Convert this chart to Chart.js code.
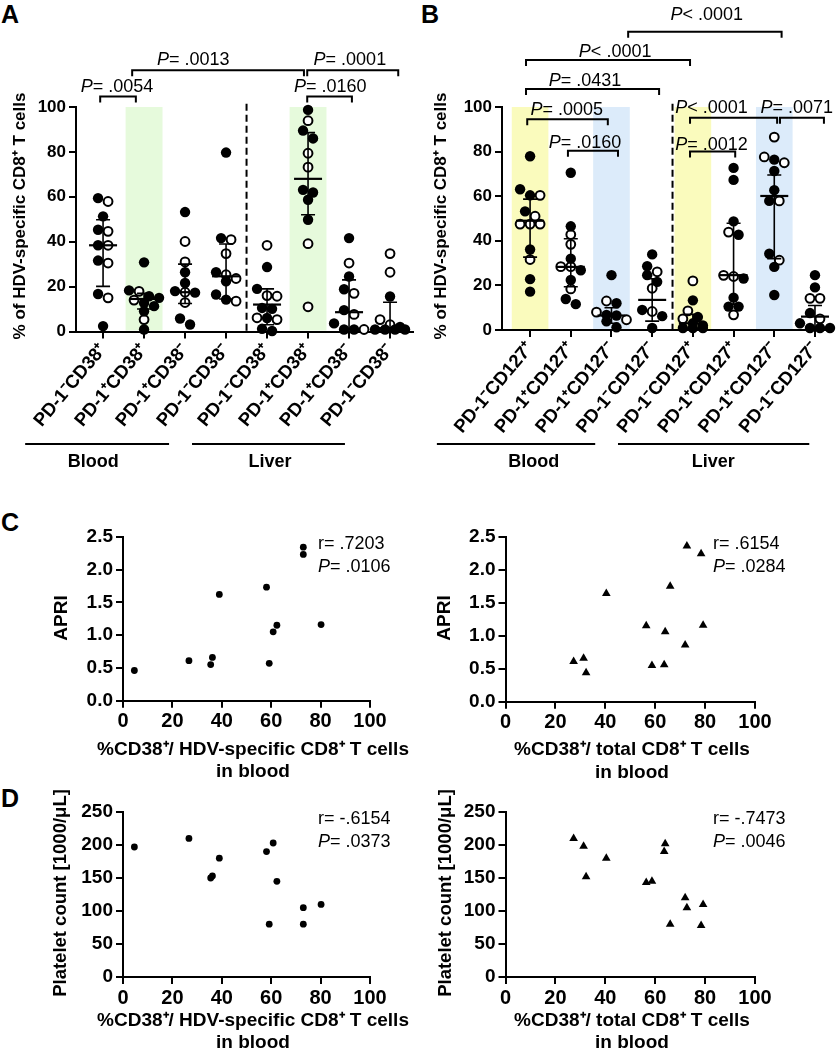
<!DOCTYPE html>
<html>
<head>
<meta charset="utf-8">
<script src="https://cdn.jsdelivr.net/npm/chart.js"></script>
<style>
  body { margin: 0; background: #fff; width: 840px; height: 1050px; position: relative; overflow: hidden; }
  canvas { position: absolute; }
  .panel { position: absolute; font: bold 25px 'Liberation Sans', Arial, sans-serif; line-height: 25px; }
</style>
</head>
<body>
<div class="panel" style="left:1px;top:2px">A</div>
<div class="panel" style="left:421px;top:2px">B</div>
<div class="panel" style="left:1px;top:510px">C</div>
<div class="panel" style="left:1px;top:786px">D</div>
<canvas id="chartA" width="420" height="480" style="left:0;top:0"></canvas>
<canvas id="chartB" width="420" height="480" style="left:420px;top:0"></canvas>
<canvas id="chartC1" width="420" height="300" style="left:0;top:480px"></canvas>
<canvas id="chartC2" width="420" height="300" style="left:420px;top:480px"></canvas>
<canvas id="chartD1" width="420" height="270" style="left:0;top:780px"></canvas>
<canvas id="chartD2" width="420" height="270" style="left:420px;top:780px"></canvas>
<script>
// ---- data ----
const labelsA = ['PD-1⁻CD38⁺', 'PD-1⁺CD38⁺', 'PD-1⁺CD38⁻', 'PD-1⁻CD38⁻', 'PD-1⁻CD38⁺', 'PD-1⁺CD38⁺', 'PD-1⁺CD38⁻', 'PD-1⁻CD38⁻'];
const filledA = [
  [59.4, 51.3, 45.3, 38.4, 31.6, 16.7, 2.4],
  [30.8, 18.3, 15.7, 15, 12.7, 11.3, 9, 0.9],
  [53.2, 26.4, 21.6, 18, 17.3, 5.8, 3.1],
  [79.7, 41.6, 26.4, 22.4, 16.5, 14.2],
  [28.7, 19, 10.5, 10.1, 6, 1.2, 0.2],
  [98.7, 89.5, 86, 63.1, 61.9, 58.7, 49.8],
  [41.6, 24.5, 18.8, 9.5, 3.6, 0.9, 0.9],
  [15.6, 2, 0.9, 0.9, 0.9, 0.9]
];
const openA = [
  [57.9, 44.6, 38.4, 30.5, 15],
  [17.9, 14, 5.3],
  [40.1, 31, 17.5, 12.9],
  [40.9, 34.7, 25.3, 23.6, 13.5],
  [38.4, 16, 15.7, 6.1, 5.3],
  [93.9, 79.4, 73.2, 39.1, 11],
  [30.5, 17, 7.6, 0.9],
  [34.7, 26.4, 5.3, 3]
];
const medianA = [38.4, 14.5, 17.5, 24.6, 12, 68, 8.6, 1.5];
const q1A = [20.1, 10, 12.5, 14.5, 3, 52, 0.9, 0.5];
const q3A = [49.8, 17, 30, 39, 19, 88.6, 23, 13];

const labelsB = ['PD-1⁻CD127⁺', 'PD-1⁺CD127⁺', 'PD-1⁺CD127⁻', 'PD-1⁻CD127⁻', 'PD-1⁻CD127⁺', 'PD-1⁺CD127⁺', 'PD-1⁺CD127⁻', 'PD-1⁻CD127⁻'];
const filledB = [
  [77.9, 63.1, 60.4, 53.2, 36.1, 22.8, 17.2],
  [70.5, 46.5, 32, 26.8, 22.4, 13.9, 11.6],
  [24.6, 12, 6.8, 6.5, 3.9, 1.2],
  [33.9, 28.6, 24.6, 21.6, 9, 6.2, 0.9],
  [13.3, 5.8, 3, 2, 0.9, 0.9, 0.9],
  [72.7, 67.3, 48.7, 42.7, 23.1, 14.5, 10.5, 10.5],
  [76.4, 71.3, 62.7, 57.9, 34.2, 28.3, 15.7],
  [24.6, 19.1, 7.6, 3, 0.9, 0.9, 0.9]
];
const openB = [
  [60.4, 51, 47.5, 47.5, 47.5, 31.6],
  [42.8, 38.4, 28.4, 28.4, 18.4],
  [13, 8, 4.6],
  [26.1, 18.7, 8.3],
  [22, 8.6, 5],
  [43.9, 24.5, 24, 6.8],
  [86.5, 77.6, 75, 57.9, 31.3],
  [14.2, 14.2, 5]
];
const medianB = [49, 28.3, 6.5, 13.5, 3, 24.6, 60.1, 6];
const q1B = [32.7, 19.4, 3, 4, 0.5, 11.6, 32, 1];
const q3B = [58.7, 40.9, 10, 23, 7, 47.9, 69.5, 11];

// correlations: CD38+ of HDV-specific (left) / of total (right) CD8+ T cells in blood
const cd38Hdv = [4.6, 26.7, 35.5, 36.2, 39, 58.1, 59.2, 60.8, 62.3, 73, 73, 80.2];
const apriHdv = [0.46, 0.61, 0.55, 0.66, 1.62, 1.73, 0.57, 1.05, 1.15, 2.34, 2.23, 1.16];
const plateletHdv = [197, 210, 150, 153, 180, 190, 80, 203, 145, 105, 80, 110];
const cd38Total = [27.3, 31.3, 32.3, 40.4, 56.4, 58.7, 63.6, 64, 66, 72, 72.7, 78.4, 79.2];
const apriTotal = [0.61, 0.66, 0.44, 1.64, 1.15, 0.55, 0.56, 1.06, 1.75, 0.86, 2.36, 2.24, 1.16];
const plateletTotal = [210, 198, 152, 180, 143, 145, 190, 202, 80, 120, 105, 78, 110];

// ---- drawing ----
const FONT = "'Liberation Sans', Arial, Helvetica, sans-serif";
Chart.defaults.font.family = FONT;
Chart.defaults.color = '#000';

function richText(ctx, s, x, y, size, align) {
  ctx.textBaseline = 'alphabetic';
  if (s[0] === 'P') {
    ctx.font = `italic ${size}px ${FONT}`;
    const w1 = ctx.measureText('P').width;
    ctx.font = `${size}px ${FONT}`;
    const rest = s.slice(1);
    const w2 = ctx.measureText(rest).width;
    let x0 = align === 'center' ? x - (w1 + w2) / 2 : (align === 'right' ? x - w1 - w2 : x);
    ctx.textAlign = 'left';
    ctx.font = `italic ${size}px ${FONT}`;
    ctx.fillText('P', x0, y);
    ctx.font = `${size}px ${FONT}`;
    ctx.fillText(rest, x0 + w1, y);
  } else {
    ctx.font = `${size}px ${FONT}`;
    ctx.textAlign = align;
    ctx.fillText(s, x, y);
  }
}

const overlay = {
  id: 'overlay',
  beforeDatasetsDraw(chart, args, o) {
    const { ctx, scales: { x, y } } = chart;
    ctx.save();
    (o.bands || []).forEach(b => {
      const x1 = x.getPixelForValue(b.cat - 0.45), x2 = x.getPixelForValue(b.cat + 0.45);
      const y1 = y.getPixelForValue(100), y2 = y.getPixelForValue(0) - 1;
      ctx.fillStyle = b.color;
      ctx.fillRect(x1, y1, x2 - x1, y2 - y1);
    });
    if (o.divider != null) {
      const px = x.getPixelForValue(o.divider);
      ctx.strokeStyle = '#000';
      ctx.lineWidth = 2;
      ctx.setLineDash([7, 4]);
      ctx.beginPath();
      ctx.moveTo(px, y.getPixelForValue(101.5));
      ctx.lineTo(px, y.getPixelForValue(0));
      ctx.stroke();
    }
    ctx.restore();
  },
  afterDatasetsDraw(chart, args, o) {
    const { ctx, scales: { x, y } } = chart;
    ctx.save();
    ctx.strokeStyle = '#000';
    ctx.fillStyle = '#000';
    if (o.stats) {
      o.stats.median.forEach((m, i) => {
        const cx = x.getPixelForValue(i);
        const lo = y.getPixelForValue(o.stats.lo[i]), hi = y.getPixelForValue(o.stats.hi[i]);
        const my = y.getPixelForValue(m);
        ctx.lineWidth = 1.6;
        ctx.beginPath();
        ctx.moveTo(cx, lo); ctx.lineTo(cx, hi);
        ctx.moveTo(cx - 7, lo); ctx.lineTo(cx + 7, lo);
        ctx.moveTo(cx - 7, hi); ctx.lineTo(cx + 7, hi);
        ctx.stroke();
        ctx.lineWidth = 2.2;
        ctx.beginPath();
        ctx.moveTo(cx - 14, my); ctx.lineTo(cx + 14, my);
        ctx.stroke();
      });
    }
    (o.brackets || []).forEach(b => {
      const x1 = x.getPixelForValue(b.x1), x2 = x.getPixelForValue(b.x2), py = y.getPixelForValue(b.y);
      ctx.lineWidth = 2;
      ctx.beginPath();
      ctx.moveTo(x1, py + 6); ctx.lineTo(x1, py); ctx.lineTo(x2, py); ctx.lineTo(x2, py + 6);
      ctx.stroke();
      richText(ctx, b.label, x.getPixelForValue(b.lx), y.getPixelForValue(b.ly), 18, 'center');
    });
    (o.groups || []).forEach(g => {
      ctx.lineWidth = 1.8;
      ctx.beginPath();
      ctx.moveTo(x.getPixelForValue(g.x1), g.lineY);
      ctx.lineTo(x.getPixelForValue(g.x2), g.lineY);
      ctx.stroke();
      ctx.font = `bold 18px ${FONT}`;
      ctx.textAlign = 'center';
      ctx.textBaseline = 'alphabetic';
      ctx.fillText(g.text, x.getPixelForValue(g.tx), g.textY);
    });
    (o.texts || []).forEach(t => {
      ctx.save();
      ctx.translate(t.x, t.y);
      if (t.rot) ctx.rotate(t.rot);
      ctx.textBaseline = 'middle';
      if (t.bold) {
        ctx.font = `bold ${t.size}px ${FONT}`;
        ctx.textAlign = t.align || 'center';
        ctx.fillText(t.t, 0, 0);
      } else {
        richText(ctx, t.t, 0, t.size * 0.36, t.size, t.align || 'left');
      }
      ctx.restore();
    });
    ctx.restore();
  }
};
Chart.register(overlay);

const axisGrid = { drawOnChartArea: false, color: '#000', lineWidth: 2, tickLength: 7 };
const axisBorder = { color: '#000', width: 2 };

// simple Prism-like swarm: points in close value rows are spread sideways
function swarm(filled, open, cat, pxX, pxY) {
  const pts = filled.map(v => ({ v, f: true })).concat(open.map(v => ({ v, f: false })));
  pts.sort((a, b) => b.v - a.v);
  const rows = [];
  pts.forEach(p => {
    const r = rows[rows.length - 1];
    if (r && (r[0].v - p.v) * pxY < 8) r.push(p); else rows.push([p]);
  });
  rows.forEach(r => {
    const gap = r.length > 1 ? Math.min(10, 30 / (r.length - 1)) : 0;
    r.forEach((p, k) => { p.x = cat + (k - (r.length - 1) / 2) * gap / pxX; });
  });
  return pts;
}

function dotPlot(id, box, labels, filled, open, med, lo, hi, extra) {
  const canvas = document.getElementById(id);
  const W = canvas.width, H = canvas.height;
  const pxX = (box.R - box.L) / (box.xMax - box.xMin);
  const pxY = (box.B - box.T) / 100;
  const pf = [], po = [];
  labels.forEach((_, i) => {
    swarm(filled[i], open[i], i, pxX, pxY).forEach(p => (p.f ? pf : po).push({ x: p.x, y: p.v }));
  });
  return new Chart(canvas, {
    type: 'scatter',
    data: {
      datasets: [
        { data: pf, backgroundColor: '#000', borderColor: '#000', borderWidth: 0, pointRadius: 5.2, clip: false },
        { data: po, backgroundColor: '#fff', borderColor: '#000', borderWidth: 2, pointRadius: 4.4, clip: false }
      ]
    },
    options: {
      responsive: false, animation: false, devicePixelRatio: 1, events: [],
      layout: { padding: { left: 0, top: box.T, right: W - box.R, bottom: 0 } },
      plugins: { legend: { display: false }, tooltip: { enabled: false }, overlay: extra },
      scales: {
        x: {
          type: 'linear', min: box.xMin, max: box.xMax,
          afterBuildTicks: s => { s.ticks = labels.map((_, i) => ({ value: i })); },
          afterFit: s => { s.height = H - box.B; },
          ticks: {
            autoSkip: false, minRotation: 50, maxRotation: 50, padding: 1,
            font: { size: 18.5, weight: 'bold' },
            callback: v => labels[v]
          },
          grid: axisGrid, border: axisBorder
        },
        y: {
          min: 0, max: 100,
          afterFit: s => { s.width = box.L; },
          ticks: { stepSize: 20, padding: 3, font: { size: 17, weight: 'bold' } },
          grid: axisGrid, border: axisBorder
        }
      }
    }
  });
}

function corrPlot(id, box, xs, ys, yMax, yStep, yDec, style, texts) {
  const canvas = document.getElementById(id);
  const W = canvas.width, H = canvas.height;
  return new Chart(canvas, {
    type: 'scatter',
    data: {
      datasets: [{
        data: xs.map((v, i) => ({ x: v, y: ys[i] })),
        pointStyle: style, pointRadius: style === 'triangle' ? 5 : 3.4,
        backgroundColor: '#000', borderColor: '#000', borderWidth: 0, clip: false
      }]
    },
    options: {
      responsive: false, animation: false, devicePixelRatio: 1, events: [],
      layout: { padding: { left: 0, top: box.T, right: W - box.R, bottom: 0 } },
      plugins: { legend: { display: false }, tooltip: { enabled: false }, overlay: { texts } },
      scales: {
        x: {
          type: 'linear', min: 0, max: 100,
          afterFit: s => { s.height = H - box.B; },
          ticks: { stepSize: 20, padding: 2, font: { size: 20, weight: 'bold' } },
          grid: axisGrid, border: axisBorder
        },
        y: {
          min: 0, max: yMax,
          afterFit: s => { s.width = box.L; },
          ticks: { stepSize: yStep, padding: 3, font: { size: 19, weight: 'bold' }, callback: v => v.toFixed(yDec) },
          grid: axisGrid, border: axisBorder
        }
      }
    }
  });
}

const yTitle = '% of HDV-specific CD8⁺ T cells';
const ROT = -Math.PI / 2;

dotPlot('chartA', { L: 76, T: 107, R: 413, B: 331.5, xMin: -0.66, xMax: 7.56 }, labelsA, filledA, openA, medianA, q1A, q3A, {
  stats: { median: medianA, lo: q1A, hi: q3A },
  bands: [{ cat: 1, color: '#e6fadc' }, { cat: 5, color: '#e6fadc' }],
  divider: 3.5,
  brackets: [
    { x1: -0.07, x2: 0.8, y: 104.7, lx: 0.34, ly: 106.7, label: 'P= .0054' },
    { x1: 0.71, x2: 4.9, y: 116.4, lx: 2.2, ly: 118.7, label: 'P= .0013' },
    { x1: 4.98, x2: 7.2, y: 116.4, lx: 6.02, ly: 118.7, label: 'P= .0001' },
    { x1: 4.98, x2: 6.07, y: 104.7, lx: 5.54, ly: 106.7, label: 'P= .0160' }
  ],
  groups: [
    { x1: -1.9, x2: 1.61, tx: -0.24, lineY: 444, textY: 467, text: 'Blood' },
    { x1: 2.17, x2: 5.9, tx: 4.07, lineY: 444, textY: 467, text: 'Liver' }
  ],
  texts: [{ t: yTitle, x: 20, y: 216, rot: ROT, bold: true, size: 17 }]
});

dotPlot('chartB', { L: 82, T: 107, R: 408, B: 330, xMin: -0.69, xMax: 7.32 }, labelsB, filledB, openB, medianB, q1B, q3B, {
  stats: { median: medianB, lo: q1B, hi: q3B },
  bands: [{ cat: 0, color: '#fafbbd' }, { cat: 2, color: '#dcebfa' }, { cat: 4, color: '#fafbbd' }, { cat: 6, color: '#dcebfa' }],
  divider: 3.5,
  brackets: [
    { x1: 2.41, x2: 6.18, y: 133.8, lx: 4.34, ly: 139, label: 'P< .0001' },
    { x1: -0.1, x2: 3.93, y: 121.1, lx: 2.09, ly: 122.4, label: 'P< .0001' },
    { x1: -0.1, x2: 3.17, y: 108.1, lx: 1.35, ly: 109.3, label: 'P= .0431' },
    { x1: -0.07, x2: 1.91, y: 94.5, lx: 0.9, ly: 96.4, label: 'P= .0005' },
    { x1: 0.93, x2: 2.16, y: 80.4, lx: 1.35, ly: 81.5, label: 'P= .0160' },
    { x1: 3.93, x2: 6.07, y: 95.2, lx: 4.46, ly: 97.2, label: 'P< .0001' },
    { x1: 6.14, x2: 7.22, y: 95.2, lx: 6.55, ly: 97.2, label: 'P= .0071' },
    { x1: 3.93, x2: 5.04, y: 80, lx: 4.46, ly: 80.9, label: 'P= .0012' }
  ],
  groups: [
    { x1: -2.29, x2: 1.6, tx: 0.09, lineY: 444, textY: 467, text: 'Blood' },
    { x1: 2.16, x2: 6.86, tx: 4.5, lineY: 444, textY: 467, text: 'Liver' }
  ],
  texts: [{ t: yTitle, x: 21, y: 216, rot: ROT, bold: true, size: 17 }]
});

corrPlot('chartC1', { L: 123, T: 56.7, R: 370, B: 220.7 }, cd38Hdv, apriHdv, 2.5, 0.5, 1, 'circle', [
  { t: 'APRI', x: 62, y: 138, rot: ROT, bold: true, size: 19 },
  { t: '%CD38⁺/ HDV-specific CD8⁺ T cells', x: 253, y: 270, bold: true, size: 19 },
  { t: 'in blood', x: 253, y: 292, bold: true, size: 19 },
  { t: 'r= .7203', x: 318, y: 63, size: 18 },
  { t: 'P= .0106', x: 318, y: 86, size: 18 }
]);
corrPlot('chartC2', { L: 85.5, T: 56.7, R: 335, B: 221.7 }, cd38Total, apriTotal, 2.5, 0.5, 1, 'triangle', [
  { t: 'APRI', x: 25, y: 138, rot: ROT, bold: true, size: 19 },
  { t: '%CD38⁺/ total CD8⁺ T cells', x: 212, y: 270, bold: true, size: 19 },
  { t: 'in blood', x: 212, y: 292.7, bold: true, size: 19 },
  { t: 'r= .6154', x: 293, y: 63, size: 18 },
  { t: 'P= .0284', x: 293, y: 86, size: 18 }
]);
corrPlot('chartD1', { L: 123, T: 32, R: 370, B: 197 }, cd38Hdv, plateletHdv, 250, 50, 0, 'circle', [
  { t: 'Platelet count [1000/μL]', x: 61, y: 113, rot: ROT, bold: true, size: 18.5 },
  { t: '%CD38⁺/ HDV-specific CD8⁺ T cells', x: 253, y: 241, bold: true, size: 19 },
  { t: 'in blood', x: 253, y: 263, bold: true, size: 19 },
  { t: 'r= -.6154', x: 318, y: 38, size: 18 },
  { t: 'P= .0373', x: 318, y: 61, size: 18 }
]);
corrPlot('chartD2', { L: 85.5, T: 32, R: 335, B: 197 }, cd38Total, plateletTotal, 250, 50, 0, 'triangle', [
  { t: 'Platelet count [1000/μL]', x: 26, y: 113, rot: ROT, bold: true, size: 18.5 },
  { t: '%CD38⁺/ total CD8⁺ T cells', x: 212, y: 241, bold: true, size: 19 },
  { t: 'in blood', x: 212, y: 263, bold: true, size: 19 },
  { t: 'r= -.7473', x: 293, y: 38, size: 18 },
  { t: 'P= .0046', x: 293, y: 61, size: 18 }
]);
</script>
</body>
</html>
